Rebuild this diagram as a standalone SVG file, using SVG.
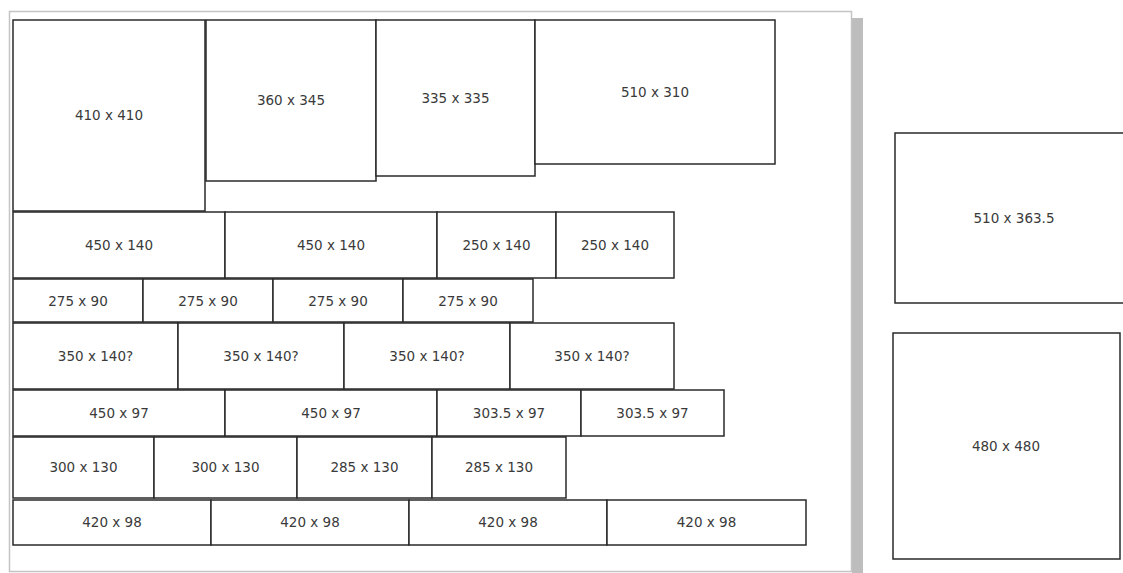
<svg xmlns="http://www.w3.org/2000/svg" width="1123" height="573" viewBox="0 0 1123 573">
<style>
.b rect{fill:#fff;stroke:#2a2a2a;stroke-width:1.5}
.b text{font-family:"DejaVu Sans",sans-serif;font-size:13.5px;fill:#3a3a3a;text-anchor:middle}
</style>
<rect x="0" y="0" width="1123" height="573" fill="#fff"/>
<rect x="852" y="18" width="11" height="560" fill="#bdbdbd"/>
<rect x="9.5" y="11.5" width="842" height="560" fill="#fff" stroke="#c4c4c4" stroke-width="1.5"/>
<g class="b">
<g id="n410x410"><rect x="13" y="20" width="192" height="191"/><text x="109" y="120">410 x 410</text></g>
<g id="n360x345"><rect x="206" y="20" width="170" height="161"/><text x="291" y="105">360 x 345</text></g>
<g id="n335x335"><rect x="376" y="20" width="159" height="156"/><text x="455.5" y="103">335 x 335</text></g>
<g id="n510x310"><rect x="535" y="20" width="240" height="144"/><text x="655" y="97">510 x 310</text></g>

<g id="r2a"><rect x="13" y="212" width="212" height="66"/><text x="119" y="250">450 x 140</text></g>
<g id="r2b"><rect x="225" y="212" width="212" height="66"/><text x="331" y="250">450 x 140</text></g>
<g id="r2c"><rect x="437" y="212" width="119" height="66"/><text x="496.5" y="250">250 x 140</text></g>
<g id="r2d"><rect x="556" y="212" width="118" height="66"/><text x="615" y="250">250 x 140</text></g>

<g id="r3a"><rect x="13" y="279" width="130" height="43"/><text x="78" y="305.5">275 x 90</text></g>
<g id="r3b"><rect x="143" y="279" width="130" height="43"/><text x="208" y="305.5">275 x 90</text></g>
<g id="r3c"><rect x="273" y="279" width="130" height="43"/><text x="338" y="305.5">275 x 90</text></g>
<g id="r3d"><rect x="403" y="279" width="130" height="43"/><text x="468" y="305.5">275 x 90</text></g>

<g id="r4a"><rect x="13" y="323" width="165" height="66"/><text x="95.5" y="361">350 x 140?</text></g>
<g id="r4b"><rect x="178" y="323" width="166" height="66"/><text x="261" y="361">350 x 140?</text></g>
<g id="r4c"><rect x="344" y="323" width="166" height="66"/><text x="427" y="361">350 x 140?</text></g>
<g id="r4d"><rect x="510" y="323" width="164" height="66"/><text x="592" y="361">350 x 140?</text></g>

<g id="r5a"><rect x="13" y="390" width="212" height="46"/><text x="119" y="417.5">450 x 97</text></g>
<g id="r5b"><rect x="225" y="390" width="212" height="46"/><text x="331" y="417.5">450 x 97</text></g>
<g id="r5c"><rect x="437" y="390" width="144" height="46"/><text x="509" y="417.5">303.5 x 97</text></g>
<g id="r5d"><rect x="581" y="390" width="143" height="46"/><text x="652.5" y="417.5">303.5 x 97</text></g>

<g id="r6a"><rect x="13" y="437" width="141" height="61"/><text x="83.5" y="472">300 x 130</text></g>
<g id="r6b"><rect x="154" y="437" width="143" height="61"/><text x="225.5" y="472">300 x 130</text></g>
<g id="r6c"><rect x="297" y="437" width="135" height="61"/><text x="364.5" y="472">285 x 130</text></g>
<g id="r6d"><rect x="432" y="437" width="134" height="61"/><text x="499" y="472">285 x 130</text></g>

<g id="r7a"><rect x="13" y="500" width="198" height="45"/><text x="112" y="527">420 x 98</text></g>
<g id="r7b"><rect x="211" y="500" width="198" height="45"/><text x="310" y="527">420 x 98</text></g>
<g id="r7c"><rect x="409" y="500" width="198" height="45"/><text x="508" y="527">420 x 98</text></g>
<g id="r7d"><rect x="607" y="500" width="199" height="45"/><text x="706.5" y="527">420 x 98</text></g>

<g id="n510x363"><rect x="895" y="133" width="239" height="170"/><text x="1014" y="223">510 x 363.5</text></g>
<g id="n480x480"><rect x="893" y="333" width="227" height="226"/><text x="1006" y="451">480 x 480</text></g>
</g>
</svg>
